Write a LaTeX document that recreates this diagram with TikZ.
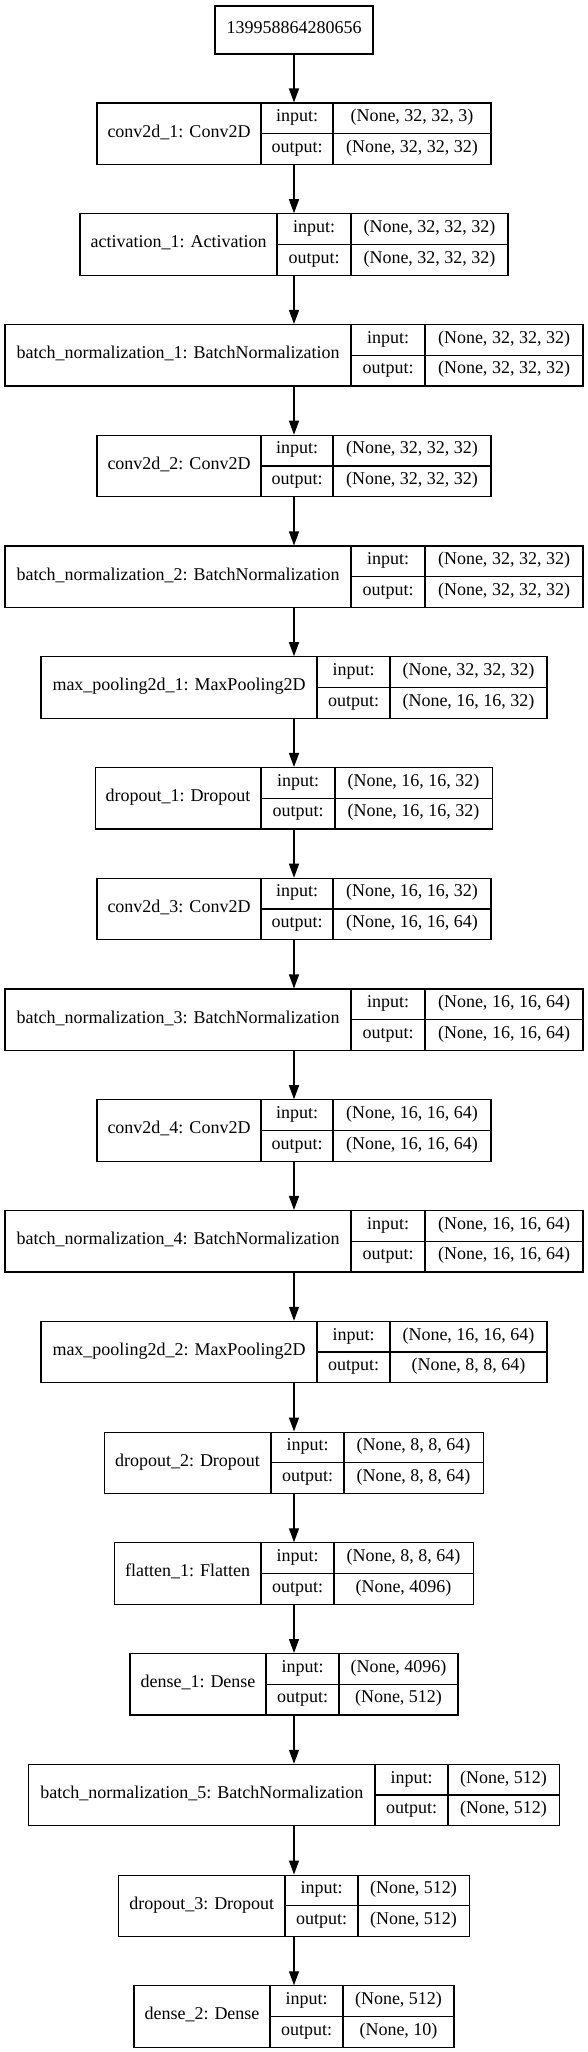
\documentclass[tikz,border=0pt]{standalone}
\usepackage{fontspec}
\setmainfont{Liberation Serif}
\usetikzlibrary{arrows.meta}

\tikzset{
    box/.style={draw=black, line width=0.8pt, inner sep=0pt, minimum height=46.1pt},
    cellline/.style={black, line width=0.8pt},
    txt/.style={inner sep=0pt, font=\fontsize{13.5}{15}\selectfont, text height=0.72em, text depth=0.22em},
    arr/.style={draw=black, line width=1pt, -{Triangle[length=10.5pt,width=7.5pt]}}
}

% id, row, left, divider 1, divider 2, right, name, input, output
\newcommand{\layer}[9]{%
    \pgfmathsetmacro{\yt}{103+110.75*(#2)}
    \pgfmathsetmacro{\yb}{\yt+61.5}
    \pgfmathsetmacro{\ym}{\yt+30.75}
    \node[box, minimum width={(#6-#3)*0.75pt}] (#1) at (294,\ym) {};
    \draw[cellline] (#4,\yt) -- (#4,\yb) (#5,\yt) -- (#5,\yb) (#4,\ym) -- (#6,\ym);
    \node[txt] (#1-name) at ({(#3+#4)/2},\ym) {#7};
    \node[txt] (#1-il) at ({(#4+#5)/2},\yt+15.4) {input:};
    \node[txt] (#1-ol) at ({(#4+#5)/2},\yt+46.1) {output:};
    \node[txt] (#1-in) at ({(#5+#6)/2},\yt+15.4) {#8};
    \node[txt] (#1-out) at ({(#5+#6)/2},\yt+46.1) {#9};
}

\begin{document}
\begin{tikzpicture}[x=0.75pt, y=-0.75pt]
    \useasboundingbox (0,0) rectangle (588,2052);

    \node[box, txt, minimum width=118.5pt, minimum height=36pt] (inp) at (294,30) {139958864280656};

    \layer{conv1}{0}{97}{261}{333}{491}{conv2d\_1: Conv2D}{(None, 32, 32, 3)}{(None, 32, 32, 32)}
    \layer{act1}{1}{80}{277}{351}{508}{activation\_1: Activation}{(None, 32, 32, 32)}{(None, 32, 32, 32)}
    \layer{bn1}{2}{5}{351}{425}{583}{batch\_normalization\_1: BatchNormalization}{(None, 32, 32, 32)}{(None, 32, 32, 32)}
    \layer{conv2}{3}{97}{261}{333}{491}{conv2d\_2: Conv2D}{(None, 32, 32, 32)}{(None, 32, 32, 32)}
    \layer{bn2}{4}{5}{351}{425}{583}{batch\_normalization\_2: BatchNormalization}{(None, 32, 32, 32)}{(None, 32, 32, 32)}
    \layer{pool1}{5}{41}{317}{390}{547}{max\_pooling2d\_1: MaxPooling2D}{(None, 32, 32, 32)}{(None, 16, 16, 32)}
    \layer{drop1}{6}{95}{261}{335}{492}{dropout\_1: Dropout}{(None, 16, 16, 32)}{(None, 16, 16, 32)}
    \layer{conv3}{7}{97}{261}{333}{491}{conv2d\_3: Conv2D}{(None, 16, 16, 32)}{(None, 16, 16, 64)}
    \layer{bn3}{8}{5}{351}{425}{583}{batch\_normalization\_3: BatchNormalization}{(None, 16, 16, 64)}{(None, 16, 16, 64)}
    \layer{conv4}{9}{97}{261}{333}{491}{conv2d\_4: Conv2D}{(None, 16, 16, 64)}{(None, 16, 16, 64)}
    \layer{bn4}{10}{5}{351}{425}{583}{batch\_normalization\_4: BatchNormalization}{(None, 16, 16, 64)}{(None, 16, 16, 64)}
    \layer{pool2}{11}{41}{317}{390}{547}{max\_pooling2d\_2: MaxPooling2D}{(None, 16, 16, 64)}{(None, 8, 8, 64)}
    \layer{drop2}{12}{104}{271}{344}{483}{dropout\_2: Dropout}{(None, 8, 8, 64)}{(None, 8, 8, 64)}
    \layer{flat1}{13}{114}{261}{334}{473}{flatten\_1: Flatten}{(None, 8, 8, 64)}{(None, 4096)}
    \layer{dense1}{14}{130}{266}{339}{458}{dense\_1: Dense}{(None, 4096)}{(None, 512)}
    \layer{bn5}{15}{28.5}{375}{448}{559}{batch\_normalization\_5: BatchNormalization}{(None, 512)}{(None, 512)}
    \layer{drop3}{16}{118.5}{285}{358}{469}{dropout\_3: Dropout}{(None, 512)}{(None, 512)}
    \layer{dense2}{17}{134}{270}{343}{454}{dense\_2: Dense}{(None, 512)}{(None, 10)}

    % connectors
    \draw[arr] (inp) -- (conv1);
    \draw[arr] (conv1) -- (act1);
    \draw[arr] (act1) -- (bn1);
    \draw[arr] (bn1) -- (conv2);
    \draw[arr] (conv2) -- (bn2);
    \draw[arr] (bn2) -- (pool1);
    \draw[arr] (pool1) -- (drop1);
    \draw[arr] (drop1) -- (conv3);
    \draw[arr] (conv3) -- (bn3);
    \draw[arr] (bn3) -- (conv4);
    \draw[arr] (conv4) -- (bn4);
    \draw[arr] (bn4) -- (pool2);
    \draw[arr] (pool2) -- (drop2);
    \draw[arr] (drop2) -- (flat1);
    \draw[arr] (flat1) -- (dense1);
    \draw[arr] (dense1) -- (bn5);
    \draw[arr] (bn5) -- (drop3);
    \draw[arr] (drop3) -- (dense2);
\end{tikzpicture}
\end{document}
